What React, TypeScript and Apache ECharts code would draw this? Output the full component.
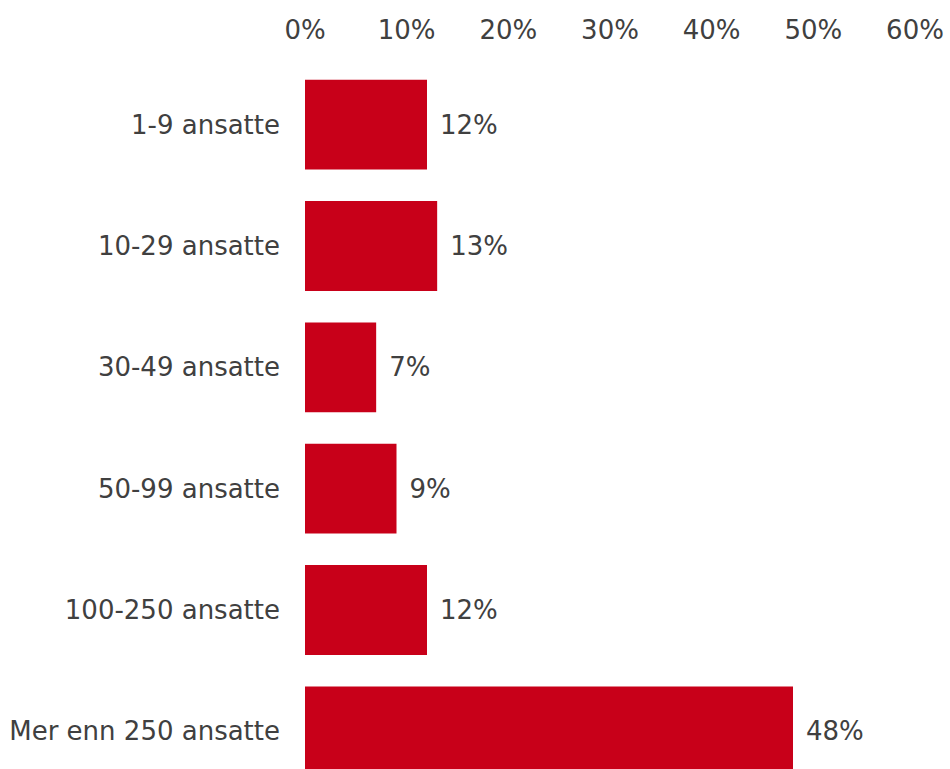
import React, { useEffect, useRef } from "react";
import * as echarts from "echarts";

const categories = [
  "1-9 ansatte",
  "10-29 ansatte",
  "30-49 ansatte",
  "50-99 ansatte",
  "100-250 ansatte",
  "Mer enn 250 ansatte",
];
const values = [12, 13, 7, 9, 12, 48];
const axisMax = 60;
const axisInterval = 10;

const FONT = "DejaVu Sans";
const TEXT = "#404040";
const BAR = "#C80019";

export default function App() {
  const ref = useRef<HTMLDivElement>(null);
  useEffect(() => {
    if (!ref.current) return;
    const chart = echarts.init(ref.current, null, { renderer: "svg" });
    chart.setOption({
      animation: false,
      backgroundColor: "#ffffff",
      grid: { left: 305, right: 35, top: 64, height: 728, containLabel: false },
      xAxis: {
        type: "value",
        position: "top",
        min: 0,
        max: axisMax,
        interval: axisInterval,
        axisLine: { show: false },
        axisTick: { show: false },
        splitLine: { show: false },
        axisLabel: {
          formatter: (v: number) => `${v}%`,
          color: TEXT,
          fontFamily: FONT,
          fontSize: 26,
          margin: 21,
        },
      },
      yAxis: {
        type: "category",
        data: categories,
        inverse: true,
        axisLine: { show: false },
        axisTick: { show: false },
        splitLine: { show: false },
        axisLabel: {
          color: TEXT,
          fontFamily: FONT,
          fontSize: 26,
          margin: 25,
        },
      },
      series: [
        {
          type: "bar",
          data: values,
          barCategoryGap: "26%",
          itemStyle: { color: BAR },
          label: {
            show: true,
            position: "right",
            distance: 13,
            formatter: (p: any) => `${p.value}%`,
            color: TEXT,
            fontFamily: FONT,
            fontSize: 26,
          },
        },
      ],
    });
    return () => chart.dispose();
  }, []);
  return (
    <div
      style={{
        position: "absolute",
        left: 0,
        top: 0,
        width: 950,
        height: 769,
        overflow: "hidden",
        background: "#ffffff",
      }}
    >
      <div ref={ref} style={{ width: 950, height: 800 }} />
    </div>
  );
}
